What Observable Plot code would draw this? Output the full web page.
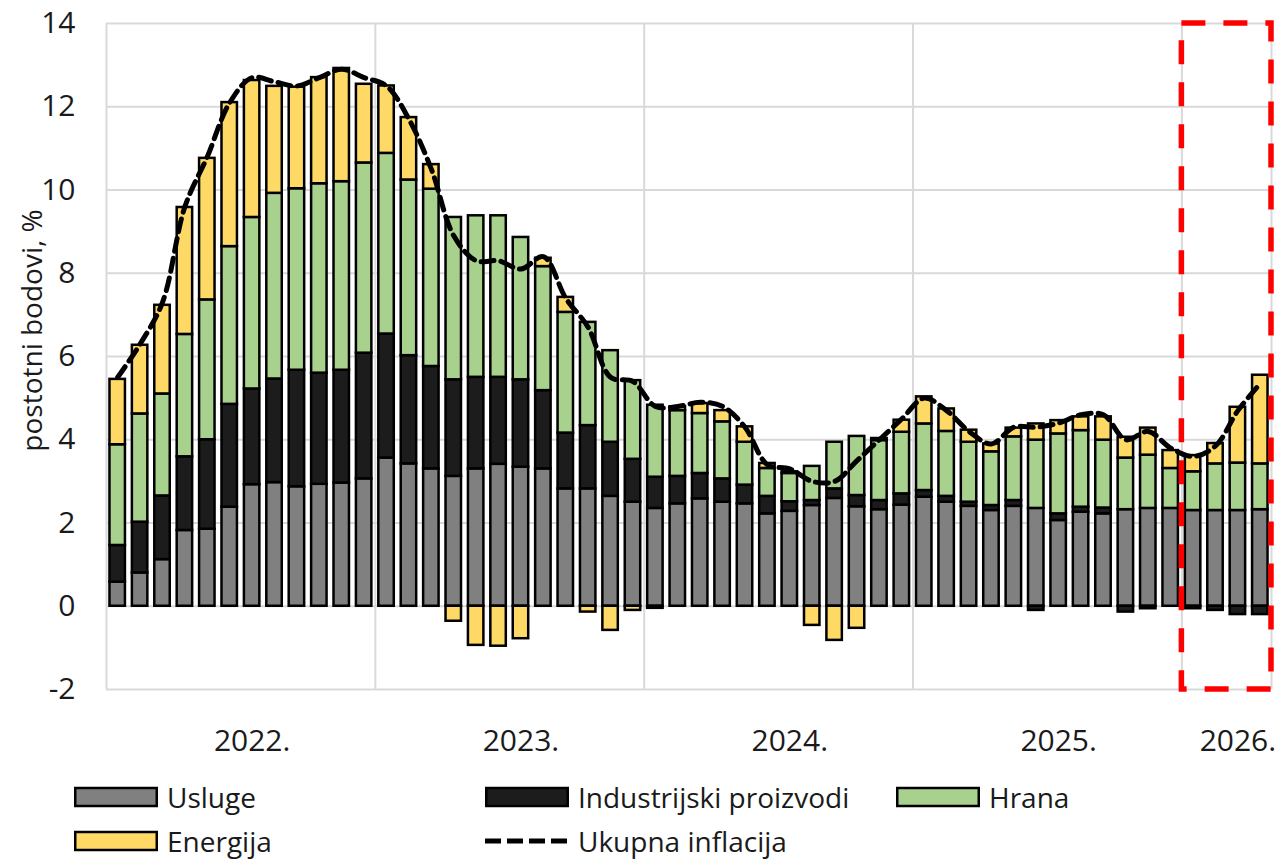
<!DOCTYPE html>
<html>
<head>
<meta charset="utf-8">
<script src="https://cdn.jsdelivr.net/npm/d3@7"></script>
<script src="https://cdn.jsdelivr.net/npm/@observablehq/plot@0.6"></script>
<style>
  html, body { margin: 0; padding: 0; background: #fff; overflow: hidden; }
  body { font-family: "Open Sans", sans-serif; color: #1a1a1a; }
  #legend { display: grid; grid-template-columns: 411px 411px 411px; padding-left: 74px; margin-top: 5px; }
  .item { display: flex; align-items: center; height: 44px; font-size: 28px; white-space: nowrap; }
  .item svg { flex: none; margin-right: 9px; }
  .item span { line-height: 1; }
</style>
</head>
<body>
<div id="chart"></div>
<div id="legend"></div>
<script>
// ---- data (postotni bodovi) ----
const months = [
  "2022-01","2022-02","2022-03","2022-04","2022-05","2022-06","2022-07","2022-08","2022-09","2022-10","2022-11","2022-12",
  "2023-01","2023-02","2023-03","2023-04","2023-05","2023-06","2023-07","2023-08","2023-09","2023-10","2023-11","2023-12",
  "2024-01","2024-02","2024-03","2024-04","2024-05","2024-06","2024-07","2024-08","2024-09","2024-10","2024-11","2024-12",
  "2025-01","2025-02","2025-03","2025-04","2025-05","2025-06","2025-07","2025-08","2025-09","2025-10","2025-11","2025-12",
  "2026-01","2026-02","2026-03","2026-04"
];
const usluge = [
  0.58, 0.80, 1.12, 1.82, 1.85, 2.38, 2.92, 2.97, 2.87, 2.93, 2.96, 3.06,
  3.56, 3.42, 3.30, 3.12, 3.30, 3.41, 3.34, 3.30, 2.82, 2.82, 2.64, 2.50,
  2.35, 2.46, 2.58, 2.50, 2.46, 2.22, 2.28, 2.42, 2.59, 2.39, 2.32, 2.43,
  2.62, 2.50, 2.40, 2.30, 2.40, 2.35, 2.06, 2.26, 2.22, 2.32, 2.35, 2.35,
  2.30, 2.30, 2.30, 2.32
];
const industrija = [
  0.88, 1.22, 1.53, 1.77, 2.15, 2.47, 2.30, 2.49, 2.80, 2.67, 2.71, 3.02,
  2.98, 2.60, 2.46, 2.32, 2.20, 2.09, 2.10, 1.88, 1.34, 1.52, 1.30, 1.03,
  0.75, 0.66, 0.61, 0.56, 0.45, 0.42, 0.23, 0.12, 0.23, 0.27, 0.22, 0.27,
  0.16, 0.14, 0.10, 0.12, 0.14, -0.10, 0.16, 0.12, 0.14, -0.14, -0.06, 0.00,
  -0.06, -0.10, -0.20, -0.20
];
const hrana = [
  2.42, 2.60, 2.45, 2.94, 3.36, 3.79, 4.12, 4.46, 4.36, 4.55, 4.53, 4.57,
  4.34, 4.22, 4.26, 3.90, 3.88, 3.88, 3.42, 2.98, 2.90, 2.48, 2.20, 1.89,
  1.73, 1.58, 1.44, 1.37, 1.03, 0.67, 0.68, 0.82, 1.12, 1.42, 1.44, 1.48,
  1.60, 1.56, 1.44, 1.29, 1.53, 1.64, 1.92, 1.84, 1.63, 1.24, 1.28, 0.96,
  0.93, 1.12, 1.14, 1.10
];
const energija = [
  1.57, 1.65, 2.13, 3.05, 3.40, 3.46, 3.29, 2.57, 2.44, 2.55, 2.72, 1.89,
  1.62, 1.50, 0.59, -0.36, -0.94, -0.96, -0.78, 0.20, 0.36, -0.14, -0.58, -0.10,
  -0.05, 0.09, 0.24, 0.27, 0.37, 0.12, 0.04, -0.46, -0.82, -0.53, 0.05, 0.29,
  0.65, 0.54, 0.29, 0.19, 0.21, 0.39, 0.32, 0.33, 0.56, 0.50, 0.65, 0.43,
  0.39, 0.49, 1.34, 2.13
];
const ukupno = [
  5.5, 6.3, 7.3, 9.6, 10.8, 12.1, 12.7, 12.6, 12.5, 12.7, 12.9, 12.7,
  12.5, 11.7, 10.5, 8.9, 8.3, 8.3, 8.1, 8.4, 7.4, 6.7, 5.5, 5.4,
  4.8, 4.8, 4.9, 4.8, 4.3, 3.4, 3.3, 3.0, 3.0, 3.5, 4.0, 4.5,
  5.0, 4.7, 4.2, 3.9, 4.3, 4.3, 4.4, 4.6, 4.6, 4.0, 4.2, 3.8,
  3.6, 3.85, 4.7, 5.35
];
const seriesNames = ["Usluge", "Industrijski proizvodi", "Hrana", "Energija"];
const seriesColors = ["#808080", "#1c1c1c", "#a9d18e", "#ffd966"];
const lineName = "Ukupna inflacija";
const yTicks = [-2, 0, 2, 4, 6, 8, 10, 12, 14];
const yearLabels = ["2022.", "2023.", "2024.", "2025.", "2026."];
const yearLabelMonths = ["2022-07", "2023-07", "2024-07", "2025-07", "2026-03"];
const forecastMonths = ["2026-01", "2026-02", "2026-03", "2026-04"];
const yLabel = "postotni bodovi, %";

// ---- derived tables ----
const seriesValues = [usluge, industrija, hrana, energija];
const bars = months.flatMap((m, i) => seriesNames.map((s, k) => ({i, month: m, series: s, value: seriesValues[k][i]})));
const totalLine = months.map((m, i) => ({i, value: ukupno[i]}));
const half = 0.345;
const yearBounds = months.map((m, i) => (m.endsWith("-01") && i > 0) ? i - 0.5 : null).filter(v => v !== null);
const vGrid = [-0.5, ...yearBounds, months.length - 0.5];
const fIdx = forecastMonths.map(m => months.indexOf(m));
const forecastBox = [{x1: Math.min(...fIdx) - 0.5, x2: Math.max(...fIdx) + 0.5, y1: yTicks[0], y2: yTicks[yTicks.length - 1]}];
const labelIdx = yearLabelMonths.map(m => months.indexOf(m));

const chart = Plot.plot({
  width: 1276,
  height: 770,
  marginLeft: 106,
  marginRight: 5,
  marginTop: 23,
  marginBottom: 81,
  x: {type: "linear", domain: [-0.5, months.length - 0.5]},
  y: {domain: [yTicks[0], yTicks[yTicks.length - 1]]},
  color: {domain: seriesNames, range: seriesColors},
  style: {fontFamily: "'Open Sans', sans-serif", fontSize: "30px", color: "#1a1a1a", background: "#fff"},
  marks: [
    Plot.gridY(yTicks, {stroke: "#d9d9d9", strokeOpacity: 1, strokeWidth: 2}),
    Plot.ruleX(vGrid, {stroke: "#d9d9d9", strokeOpacity: 1, strokeWidth: 2}),
    Plot.rectY(bars, {
      x1: d => d.i - half,
      x2: d => d.i + half,
      y: "value",
      fill: "series",
      stroke: "#000",
      strokeWidth: 2.5
    }),
    Plot.line(totalLine, {
      x: "i", y: "value", stroke: "#000", strokeWidth: 5,
      strokeDasharray: "13,7", curve: "catmull-rom"
    }),
    Plot.rect(forecastBox, {
      x1: "x1", x2: "x2", y1: "y1", y2: "y2",
      fill: "none", stroke: "#ff0000", strokeWidth: 5.5, strokeDasharray: "24,18"
    }),
    Plot.axisY(yTicks, {tickSize: 0, tickPadding: 31, fontSize: 30, label: null, tickFormat: d => String(d)}),
    Plot.axisX(labelIdx, {
      tickSize: 0, tickPadding: 40, fontSize: 30, label: null,
      tickFormat: d => yearLabels[labelIdx.indexOf(d)]
    }),
    Plot.text([yLabel], {
      text: d => d, frameAnchor: "left", textAnchor: "middle", rotate: -90, dx: -73, dy: -26,
      fontSize: 28, fill: "#1a1a1a"
    })
  ]
});
document.getElementById("chart").append(chart);

// ---- legend ----
const legend = document.getElementById("legend");
const legendItems = seriesNames.map((s, k) => ({name: s, color: seriesColors[k], type: "box"}));
legendItems.push({name: lineName, type: "line"});
for (const it of legendItems) {
  const div = document.createElement("div");
  div.className = "item";
  const sw = it.type === "box"
    ? `<svg width="84" height="22"><rect x="1.25" y="2" width="81.5" height="18" fill="${it.color}" stroke="#000" stroke-width="2.5"/></svg>`
    : `<svg width="84" height="22"><line x1="0" y1="11" x2="84" y2="11" stroke="#000" stroke-width="5" stroke-dasharray="16,6"/></svg>`;
  div.innerHTML = sw + `<span>${it.name}</span>`;
  legend.append(div);
}
</script>
</body>
</html>
